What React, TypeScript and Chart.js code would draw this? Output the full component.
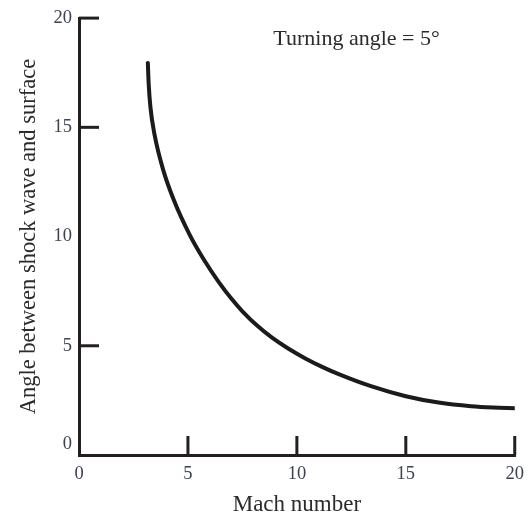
import React, { useEffect, useRef } from "react";
import { Chart, registerables } from "chart.js";

Chart.register(...registerables);

const machNumbers = [3.16, 3.2, 3.28, 3.47, 3.85, 4.38, 5.07, 5.72, 6.44, 7.0, 7.5, 8.2, 8.86, 9.6, 10.41, 11.16, 11.92, 13.4, 15.0, 16.5, 18.0, 19.0, 20.0];
const shockAngles = [17.95, 16.95, 15.91, 14.65, 13.1, 11.6, 10.1, 8.96, 7.88, 7.15, 6.58, 5.9, 5.37, 4.875, 4.41, 4.035, 3.7, 3.15, 2.69, 2.4, 2.23, 2.17, 2.14];

const xTickValues = [0, 5, 10, 15, 20];
const yTickValues = [0, 5, 10, 15, 20];
const xTickMarks = [5, 10, 15, 20];
const yTickMarks = [5, 15, 20];

const xTitle = "Mach number";
const yTitle = "Angle between shock wave and surface";
const annotationText = "Turning angle = 5°";
const annotationX = 12.74;
const annotationY = 19.05;

const SERIF = "'Liberation Serif', 'Times New Roman', serif";

const inwardTicks = {
  id: "inwardTicks",
  afterDraw(chart: any) {
    const { ctx, chartArea, scales } = chart;
    const xs = scales.x;
    const ys = scales.y;
    ctx.save();
    ctx.strokeStyle = "#231f20";
    ctx.lineWidth = 3;
    ctx.lineCap = "butt";
    for (const v of yTickMarks) {
      const py = ys.getPixelForValue(v);
      ctx.beginPath();
      ctx.moveTo(chartArea.left, py);
      ctx.lineTo(chartArea.left + 20, py);
      ctx.stroke();
    }
    for (const v of xTickMarks) {
      const px = xs.getPixelForValue(v);
      ctx.beginPath();
      ctx.moveTo(px, chartArea.bottom);
      ctx.lineTo(px, chartArea.bottom - 19);
      ctx.stroke();
    }
    ctx.fillStyle = "#2b2b2b";
    ctx.font = `22px ${SERIF}`;
    ctx.textAlign = "center";
    ctx.textBaseline = "middle";
    ctx.fillText(annotationText, xs.getPixelForValue(annotationX), ys.getPixelForValue(annotationY));
    ctx.restore();
  },
};

export default function App() {
  const ref = useRef<HTMLCanvasElement | null>(null);

  useEffect(() => {
    if (!ref.current) return;
    const chart = new Chart(ref.current, {
      type: "line",
      data: {
        datasets: [
          {
            data: machNumbers.map((m, i) => ({ x: m, y: shockAngles[i] })),
            borderColor: "#1c1a1b",
            borderWidth: 4,
            pointRadius: 0,
            cubicInterpolationMode: "monotone",
            borderCapStyle: "round",
            borderJoinStyle: "round",
            fill: false,
          },
        ],
      },
      options: {
        animation: false,
        responsive: false,
        maintainAspectRatio: false,
        layout: { padding: { left: 0, right: 15, top: 16, bottom: 0 } },
        plugins: { legend: { display: false }, tooltip: { enabled: false } },
        scales: {
          x: {
            type: "linear",
            position: "bottom",
            min: 0,
            max: 20,
            afterFit: (s: any) => {
              s.height = 64;
            },
            afterBuildTicks: (s: any) => {
              s.ticks = xTickValues.map((v) => ({ value: v }));
            },
            grid: { display: false, drawTicks: false, lineWidth: 3 },
            border: { display: true, width: 3, color: "#231f20" },
            ticks: {
              padding: 8,
              color: "#3d4150",
              font: { family: SERIF, size: 18.5 },
              maxRotation: 0,
              autoSkip: false,
            },
            title: {
              display: true,
              text: xTitle,
              color: "#2b2b2b",
              font: { family: SERIF, size: 23 },
              padding: { top: 0, bottom: 0 },
            },
          },
          y: {
            type: "linear",
            position: "left",
            min: 0,
            max: 20,
            afterFit: (s: any) => {
              s.width = 79;
            },
            afterBuildTicks: (s: any) => {
              s.ticks = yTickValues.map((v) => ({ value: v }));
            },
            grid: { display: false, drawTicks: false, lineWidth: 3 },
            border: { display: true, width: 3, color: "#231f20" },
            ticks: {
              padding: 7,
              color: "#3d4150",
              font: { family: SERIF, size: 18.5 },
              autoSkip: false,
              callback: (v: any) => (Number(v) === 0 ? ["0", ""] : String(v)),
            },
            title: {
              display: true,
              text: yTitle,
              color: "#2b2b2b",
              font: { family: SERIF, size: 22.5 },
              padding: { top: 16, bottom: 0 },
            },
          },
        },
      },
      plugins: [inwardTicks],
    });
    return () => chart.destroy();
  }, []);

  return (
    <div style={{ position: "absolute", left: 0, top: 0, width: 532, height: 519, background: "#fff" }}>
      <canvas ref={ref} width={532} height={519} style={{ display: "block" }} />
    </div>
  );
}
